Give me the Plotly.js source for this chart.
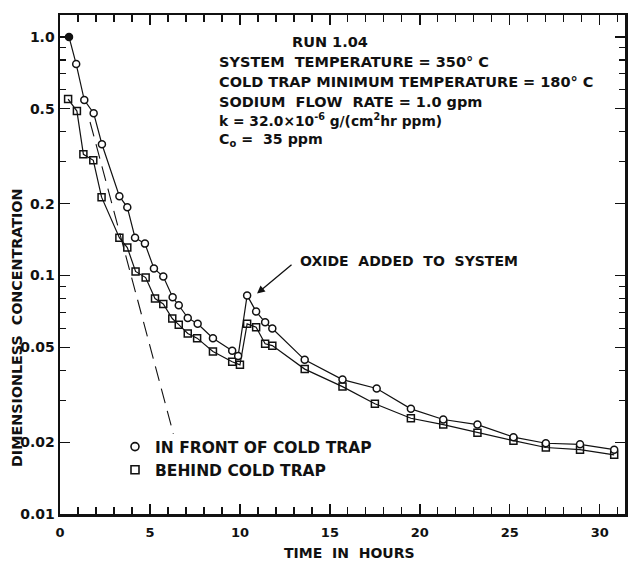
<!DOCTYPE html>
<html>
<head>
<meta charset="utf-8">
<script src="https://cdn.plot.ly/plotly-3.0.1.min.js"></script>
<style>
html,body{margin:0;padding:0;background:#fff;}
#chart{width:634px;height:565px;}
</style>
</head>
<body>
<div id="chart"></div>
<script>
// Data (time in hours, dimensionless concentration)
const frontTime = [0.5, 0.9, 1.35, 1.87, 2.33, 3.3, 3.74, 4.17, 4.72, 5.22, 5.74, 6.26, 6.6, 7.1, 7.65, 8.5, 9.57, 9.9, 10.4, 10.9, 11.4, 11.8, 13.6, 15.7, 17.6, 19.5, 21.3, 23.2, 25.2, 27.0, 28.9, 30.8];
const frontConc = [1.0, 0.77, 0.544, 0.479, 0.355, 0.215, 0.193, 0.144, 0.136, 0.107, 0.099, 0.081, 0.075, 0.0664, 0.0627, 0.0546, 0.0484, 0.046, 0.0825, 0.0706, 0.0636, 0.0599, 0.0443, 0.0366, 0.0336, 0.0276, 0.0249, 0.0237, 0.021, 0.0198, 0.0196, 0.0186];
const behindTime = [0.45, 0.94, 1.3, 1.85, 2.31, 3.3, 3.74, 4.2, 4.76, 5.28, 5.74, 6.24, 6.6, 7.1, 7.62, 8.5, 9.57, 10.0, 10.4, 10.9, 11.4, 11.8, 13.6, 15.7, 17.5, 19.5, 21.3, 23.2, 25.2, 27.0, 28.9, 30.8];
const behindConc = [0.549, 0.489, 0.322, 0.304, 0.213, 0.144, 0.131, 0.104, 0.098, 0.080, 0.076, 0.066, 0.0622, 0.0571, 0.0546, 0.048, 0.0435, 0.0422, 0.0627, 0.0607, 0.0517, 0.0508, 0.0405, 0.0342, 0.029, 0.0252, 0.0237, 0.0219, 0.0203, 0.019, 0.0186, 0.0177];
const theoryTime = [1.67, 6.3];
const theoryConc = [0.44, 0.0217];

const yTickVals = [0.01, 0.02, 0.05, 0.1, 0.2, 0.5, 1.0];
const yTickText = ["0.01", "0.02", "0.05", "0.1", "0.2", "0.5", "1.0"];
const yMinorVals = [0.03, 0.04, 0.06, 0.07, 0.08, 0.09, 0.3, 0.4, 0.6, 0.7, 0.8, 0.9];
const xTickVals = [0, 5, 10, 15, 20, 25, 30];

const seriesNames = ["IN FRONT OF COLD TRAP", "BEHIND COLD TRAP"];

const FONT = "DejaVu Sans, Arial, sans-serif";
const ink = "#111";

const frontFill = frontConc.map((v, i) => i === 0 ? ink : "#fff");

const traces = [
  {
    x: theoryTime, y: theoryConc, mode: "lines", showlegend: false,
    line: {color: ink, width: 1.1, dash: "15px,8px"}, hoverinfo: "skip"
  },
  {
    x: behindTime, y: behindConc, mode: "lines+markers", showlegend: false,
    line: {color: ink, width: 1.2},
    marker: {symbol: "square-open", size: 7, color: ink, line: {width: 1.5, color: ink}}
  },
  {
    x: frontTime, y: frontConc, mode: "lines+markers", showlegend: false,
    line: {color: ink, width: 1.2},
    marker: {symbol: "circle", size: 7, color: frontFill, line: {width: 1.5, color: ink}}
  },
  {
    x: [null], y: [null], mode: "markers", name: seriesNames[0],
    marker: {symbol: "circle-open", size: 8, color: ink, line: {width: 1.6}}
  },
  {
    x: [null], y: [null], mode: "markers", name: seriesNames[1],
    marker: {symbol: "square-open", size: 8, color: ink, line: {width: 1.6}}
  }
];

const L = 60, R = 625, T = 15, B = 514;
const px = v => (v - L) / (R - L);
const py = v => (B - v) / (B - T);
const bold = s => ({family: FONT, size: s, color: ink, weight: "bold"});

const annotations = [
  {text: "RUN 1.04", x: px(290), y: py(42), font: bold(14.5)},
  {text: "SYSTEM  TEMPERATURE = 350° C", x: px(217), y: py(62), font: bold(14.5)},
  {text: "COLD TRAP MINIMUM TEMPERATURE = 180° C", x: px(217), y: py(82), font: bold(14.5)},
  {text: "SODIUM  FLOW  RATE = 1.0 gpm", x: px(217), y: py(102), font: bold(14.5)},
  {text: "k = 32.0×10<sup>-6</sup> g/(cm<sup>2</sup>hr ppm)", x: px(217), y: py(120), font: bold(13.8)},
  {text: "C<sub>o</sub> =  35 ppm", x: px(217), y: py(140), font: bold(14.2)},
  {text: "OXIDE  ADDED  TO  SYSTEM", x: px(298), y: py(261), font: bold(14)}
].map(a => Object.assign({xref: "paper", yref: "paper", xanchor: "left", yanchor: "middle", showarrow: false}, a));

annotations.push({
  xref: "x", yref: "y", x: 10.95, y: Math.log10(0.084), ax: 36, ay: -30,
  showarrow: true, arrowhead: 2, arrowsize: 1.2, arrowwidth: 1.3, arrowcolor: ink, text: ""
});
annotations.push({
  xref: "paper", yref: "paper", x: px(17), y: py(328), textangle: -90,
  text: "DIMENSIONLESS  CONCENTRATION", showarrow: false, font: bold(14.3),
  xanchor: "center", yanchor: "middle"
});
annotations.push({
  xref: "paper", yref: "paper", x: px(349), y: py(553),
  text: "TIME  IN  HOURS", showarrow: false, font: bold(14),
  xanchor: "center", yanchor: "middle"
});

const layout = {
  width: 634, height: 565,
  margin: {l: L, r: 634 - R, t: T, b: 565 - B},
  paper_bgcolor: "#fff", plot_bgcolor: "#fff",
  font: {family: FONT, color: ink},
  showlegend: true,
  legend: {x: px(115), y: py(430), xanchor: "left", yanchor: "top", bgcolor: "rgba(0,0,0,0)",
           font: bold(15.5), itemwidth: 30, tracegroupgap: 0},
  xaxis: {
    range: [0, 31.4], showgrid: false, zeroline: false,
    showline: true, linecolor: ink, linewidth: 2.5, mirror: "ticks",
    ticks: "inside", ticklen: 10, tickwidth: 1.3, tickcolor: ink,
    tickmode: "array", tickvals: xTickVals,
    tickfont: bold(13),
    ticklabelstandoff: 5,
    minor: {ticks: "inside", dtick: 1, tick0: 0, ticklen: 7, tickwidth: 1.2, tickcolor: ink, showgrid: false}
  },
  yaxis: {
    type: "log", range: [-2, 0.092], showgrid: false, zeroline: false,
    showline: true, linecolor: ink, linewidth: 2.5, mirror: "ticks",
    ticks: "inside", ticklen: 10, tickwidth: 1.3, tickcolor: ink,
    tickmode: "array", tickvals: yTickVals, ticktext: yTickText,
    tickfont: bold(14),
    ticklabelstandoff: 0,
    minor: {ticks: "inside", tickmode: "array", tickvals: yMinorVals, ticklen: 6, tickwidth: 1.2, tickcolor: ink, showgrid: false}
  },
  annotations: annotations
};

Plotly.newPlot("chart", traces, layout, {staticPlot: true, displayModeBar: false});
</script>
</body>
</html>
